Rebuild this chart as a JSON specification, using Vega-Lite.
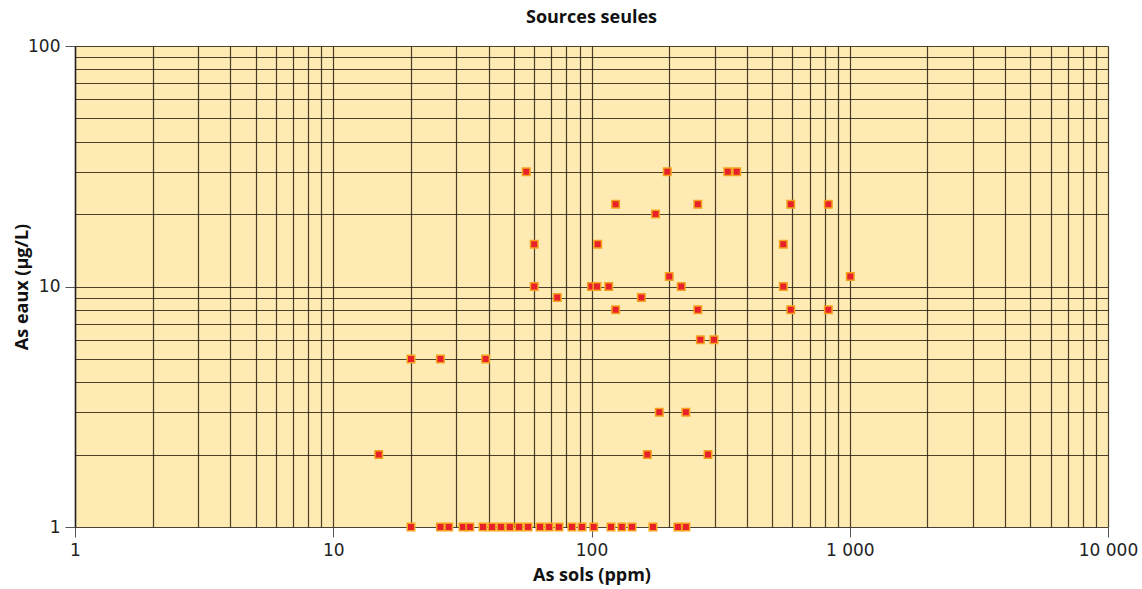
{
  "$schema": "https://vega.github.io/schema/vega-lite/v6.json",
  "autosize": "none",
  "width": 1033,
  "height": 481,
  "padding": {"left": 75, "top": 46, "right": 34, "bottom": 62},
  "background": "white",
  "title": {"text": "Sources seules", "font": "Open Sans", "fontSize": 18, "fontWeight": "bold", "color": "#111", "offset": 10, "anchor": "middle"},
  "config": {
    "view": {"fill": "#feebb4", "stroke": null},
    "axis": {"labelFont": "DejaVu Sans", "labelFontSize": 17, "labelColor": "#222", "labelFlush": false, "labelBound": false, "titleFont": "Open Sans", "titleFontSize": 18, "titleFontWeight": "bold", "titleColor": "#111"}
  },
  "data": {"values": [
    {"sol": 55.9, "eau": 30}, {"sol": 196.6, "eau": 30}, {"sol": 337, "eau": 30}, {"sol": 365, "eau": 30},
    {"sol": 124, "eau": 22}, {"sol": 258, "eau": 22}, {"sol": 591, "eau": 22}, {"sol": 826, "eau": 22},
    {"sol": 177, "eau": 20},
    {"sol": 60, "eau": 15}, {"sol": 105.7, "eau": 15}, {"sol": 553, "eau": 15},
    {"sol": 200, "eau": 11}, {"sol": 1005, "eau": 11},
    {"sol": 60, "eau": 10}, {"sol": 100, "eau": 10}, {"sol": 105, "eau": 10}, {"sol": 116.6, "eau": 10}, {"sol": 222.7, "eau": 10}, {"sol": 553, "eau": 10},
    {"sol": 73.7, "eau": 9}, {"sol": 156, "eau": 9},
    {"sol": 124, "eau": 8}, {"sol": 258, "eau": 8}, {"sol": 591, "eau": 8}, {"sol": 826, "eau": 8},
    {"sol": 264, "eau": 6}, {"sol": 298, "eau": 6},
    {"sol": 20, "eau": 5}, {"sol": 26, "eau": 5}, {"sol": 38.9, "eau": 5},
    {"sol": 183, "eau": 3}, {"sol": 232, "eau": 3},
    {"sol": 15, "eau": 2}, {"sol": 164.5, "eau": 2}, {"sol": 282.6, "eau": 2},
    {"sol": 20, "eau": 1}, {"sol": 26, "eau": 1}, {"sol": 28, "eau": 1}, {"sol": 31.8, "eau": 1}, {"sol": 33.8, "eau": 1},
    {"sol": 38, "eau": 1}, {"sol": 41.2, "eau": 1}, {"sol": 44.6, "eau": 1}, {"sol": 48.3, "eau": 1}, {"sol": 52.4, "eau": 1},
    {"sol": 56.8, "eau": 1}, {"sol": 63.2, "eau": 1}, {"sol": 68.5, "eau": 1}, {"sol": 74.8, "eau": 1}, {"sol": 84, "eau": 1},
    {"sol": 91.9, "eau": 1}, {"sol": 102, "eau": 1}, {"sol": 119, "eau": 1}, {"sol": 131, "eau": 1}, {"sol": 143.5, "eau": 1},
    {"sol": 173, "eau": 1}, {"sol": 216, "eau": 1}, {"sol": 232, "eau": 1}
  ]},
  "mark": {"type": "square", "filled": true, "color": "#e8202a", "stroke": "#f4a21e", "strokeWidth": 1.5, "size": 56, "opacity": 1, "clip": false},
  "encoding": {
    "x": {
      "field": "sol", "type": "quantitative",
      "scale": {"type": "log", "domain": [1, 10000], "nice": false},
      "axis": {
        "title": "As sols (ppm)", "titlePadding": 8,
        "values": [1,2,3,4,5,6,7,8,9,10,20,30,40,50,60,70,80,90,100,200,300,400,500,600,700,800,900,1000,2000,3000,4000,5000,6000,7000,8000,9000,10000],
        "grid": true, "gridColor": "#2b2110", "gridOpacity": 0.85, "gridWidth": 1.2,
        "domain": false,
        "tickSize": 10, "tickColor": "#555",
        "tickOpacity": {"condition": {"test": "indexof([1,10,100,1000,10000], datum.value) >= 0", "value": 1}, "value": 0},
        "labelPadding": 5,
        "labelExpr": "indexof([1,10,100,1000,10000], datum.value) >= 0 ? replace(format(datum.value, ','), regexp(',', 'g'), ' ') : ''"
      }
    },
    "y": {
      "field": "eau", "type": "quantitative",
      "scale": {"type": "log", "domain": [1, 100], "nice": false},
      "axis": {
        "title": "As eaux (µg/L)", "titlePadding": -4,
        "values": [1,2,3,4,5,6,7,8,9,10,20,30,40,50,60,70,80,90,100],
        "grid": true, "gridColor": "#2b2110", "gridOpacity": 0.85, "gridWidth": 1.2,
        "domain": true, "domainColor": "#222", "domainWidth": 1.5,
        "tickSize": 10, "tickColor": "#555",
        "tickOpacity": {"condition": {"test": "indexof([1,10,100], datum.value) >= 0", "value": 1}, "value": 0},
        "labelPadding": 5,
        "labelExpr": "indexof([1,10,100], datum.value) >= 0 ? datum.label : ''"
      }
    }
  }
}
